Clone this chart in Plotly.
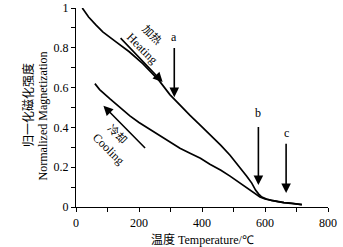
import plotly.graph_objects as go

# Heating curve (Temperature °C, normalized magnetization)
heat_T = [20, 40, 63, 85, 127, 169, 212, 264, 298, 330, 362, 395, 425, 460, 489, 515, 542, 558, 570, 580, 590, 605, 620, 640, 660, 680, 700, 717]
heat_M = [1.0, 0.955, 0.915, 0.88, 0.83, 0.78, 0.72, 0.635, 0.565, 0.51, 0.46, 0.41, 0.365, 0.31, 0.26, 0.21, 0.155, 0.12, 0.085, 0.065, 0.05, 0.04, 0.033, 0.028, 0.022, 0.02, 0.015, 0.012]

# Cooling curve
cool_T = [60, 75, 108, 140, 171, 200, 235, 270, 298, 330, 362, 395, 425, 460, 489, 520, 552, 570, 584, 600, 620, 640, 660, 680, 700, 717]
cool_M = [0.62, 0.59, 0.543, 0.50, 0.458, 0.425, 0.39, 0.355, 0.323, 0.295, 0.27, 0.245, 0.215, 0.185, 0.155, 0.12, 0.086, 0.065, 0.05, 0.04, 0.032, 0.027, 0.022, 0.018, 0.015, 0.012]

x_ticks = [0, 200, 400, 600, 800]
y_ticks = [0, 0.2, 0.4, 0.6, 0.8, 1]
y_tick_text = ["0", "0.2", "0.4", "0.6", "0.8", "1"]

serif = "Liberation Serif, Times New Roman, serif"
cjk = "Noto Sans CJK SC"

fig = go.Figure()
fig.add_trace(go.Scatter(x=heat_T, y=heat_M, mode="lines",
                         line=dict(color="black", width=1.7), showlegend=False))
fig.add_trace(go.Scatter(x=cool_T, y=cool_M, mode="lines",
                         line=dict(color="black", width=1.7), showlegend=False))

def arrow(x, y, ax, ay):
    fig.add_annotation(x=x, y=y, ax=ax, ay=ay, xref="x", yref="y", axref="x", ayref="y",
                       text="", showarrow=True, arrowhead=2, arrowsize=1.2,
                       arrowwidth=1.6, arrowcolor="black")

# Heating / cooling direction arrows
arrow(275, 0.628, 137, 0.856)
arrow(87, 0.509, 224, 0.289)
# a, b, c arrows
arrow(312, 0.552, 312, 0.806)
arrow(579, 0.11, 579, 0.41)
arrow(667, 0.07, 667, 0.325)

def label(x, y, t, angle=0, font=serif, size=12):
    fig.add_annotation(x=x, y=y, xref="x", yref="y", text=t, showarrow=False,
                       textangle=angle, font=dict(family=font, size=size, color="black"))

label(312, 0.855, "a")
label(579, 0.47, "b")
label(667, 0.37, "c")
label(244, 0.87, "加热", 45, cjk, 11)
label(208, 0.797, "Heating", 45, serif, 12)
label(132, 0.37, "冷却", 45, cjk, 11)
label(103, 0.29, "Cooling", 45, serif, 12)

# Axis titles as annotations
fig.add_annotation(x=-0.234, y=0.51, xref="paper", yref="paper", text="归一化磁化强度",
                   showarrow=False, textangle=-90, font=dict(family=cjk, size=12, color="black"))
fig.add_annotation(x=-0.163, y=0.46, xref="paper", yref="paper", text="Normalized Magnetization",
                   showarrow=False, textangle=-90, font=dict(family=serif, size=12, color="black"))
fig.add_annotation(x=0.5, y=-0.157, xref="paper", yref="paper", yanchor="middle",
                   text="<span style='font-family:Noto Sans CJK SC'>温度</span> Temperature/℃",
                   showarrow=False, font=dict(family=serif, size=12, color="black"))

fig.update_xaxes(range=[0, 800], tickvals=x_ticks, ticks="outside", ticklen=4,
                 showline=True, linecolor="black", linewidth=1.2, showgrid=False,
                 zeroline=False, automargin=False,
                 tickfont=dict(family=serif, size=12, color="black"),
                 minor=dict(dtick=100, ticks="outside", ticklen=4, tickcolor="black"),
                 tickcolor="black")
fig.update_yaxes(range=[0, 1], tickvals=y_ticks, ticktext=y_tick_text, ticks="outside", ticklen=4,
                 showline=True, linecolor="black", linewidth=1.2, showgrid=False,
                 zeroline=False, automargin=False,
                 tickfont=dict(family=serif, size=12, color="black"),
                 minor=dict(dtick=0.1, ticks="outside", ticklen=4, tickcolor="black"),
                 tickcolor="black")

fig.update_layout(width=343, height=247, margin=dict(l=76, r=15, t=8, b=40, autoexpand=False),
                  plot_bgcolor="white", paper_bgcolor="white")

fig.write_html("out.html", config={"displayModeBar": False, "staticPlot": True},
               post_script="document.body.style.margin='0px';document.body.style.padding='0px';")
